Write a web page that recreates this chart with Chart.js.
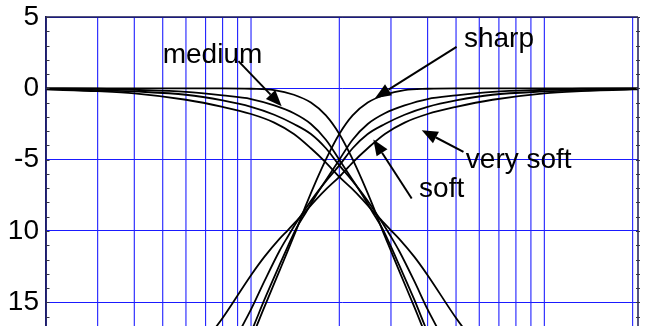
<!DOCTYPE html>
<html>
<head>
<meta charset="utf-8">
<script src="https://cdn.jsdelivr.net/npm/chart.js@4"></script>
<style>
  html, body { margin: 0; padding: 0; background: #ffffff; }
  #c { display: block; }
</style>
</head>
<body>
<canvas id="c" width="645" height="326"></canvas>
<script>
// ---------- data ----------
const LP_FREQ = [1, 1.5, 2, 3, 4, 5, 6, 7, 8, 9, 10, 11, 12, 13, 14, 15, 16, 18, 20, 25, 30, 40, 50, 70, 105];
const SHARP_LP = [0, 0, 0, 0, 0, -0.03, -0.12, -0.45, -1.0, -1.9, -3.2, -4.8, -6.5, -8.2, -9.9, -11.4, -12.8, -15.3, -17.6, -22, -26.5, -33, -38, -46, -55];
const MEDIUM_LP = [0, -0.03, -0.1, -0.25, -0.5, -0.75, -1.2, -1.75, -2.5, -3.6, -5.0, -6.3, -7.5, -8.7, -9.8, -11.1, -12.4, -14.8, -17.1, -21.5, -25.5, -31, -35.5, -42, -50];
const SOFT_LP = [-0.05, -0.12, -0.22, -0.45, -0.85, -1.3, -1.85, -2.5, -3.2, -4.2, -5.4, -6.4, -7.4, -8.4, -9.4, -10.4, -11.4, -13.5, -15.5, -19.2, -22.3, -27.3, -31.3, -37, -43];
const VSOFT_LP = [-0.08, -0.2, -0.35, -0.8, -1.3, -1.8, -2.4, -3.2, -4.2, -5.2, -6.2, -7.0, -7.8, -8.6, -9.3, -9.95, -10.55, -11.8, -13.1, -16.1, -18.3, -22.3, -25.4, -30, -35];

const HP_FREQ = [0.95, 1.43, 2, 2.5, 3.33, 4, 5, 5.56, 6.25, 6.67, 7.14, 7.69, 8.33, 9.09, 10, 11.1, 12.5, 14.3, 16.7, 20, 25, 33.3, 50, 66.7, 100, 105];
const SHARP_HP = [-55, -46, -38, -33, -26.5, -22, -17.6, -15.3, -12.8, -11.4, -9.9, -8.2, -6.5, -4.8, -3.2, -1.9, -1.0, -0.45, -0.12, -0.03, 0, 0, 0, 0, 0, 0];
const MEDIUM_HP = [-50, -42, -35.5, -31, -25.5, -21.5, -17.1, -14.8, -12.4, -11.1, -9.8, -8.7, -7.5, -6.3, -5.0, -3.6, -2.5, -1.75, -1.2, -0.75, -0.5, -0.25, -0.1, -0.03, 0, 0];
const SOFT_HP = [-43, -37, -31.3, -27.3, -22.3, -19.2, -15.5, -13.5, -11.4, -10.4, -9.4, -8.4, -7.4, -6.4, -5.4, -4.2, -3.2, -2.5, -1.85, -1.3, -0.85, -0.45, -0.22, -0.12, -0.05, -0.04];
const VSOFT_HP = [-35, -30, -25.4, -22.3, -18.3, -16.1, -13.1, -11.8, -10.55, -9.95, -9.3, -8.6, -7.8, -7.0, -6.2, -5.2, -4.2, -3.2, -2.4, -1.8, -1.3, -0.8, -0.35, -0.2, -0.08, -0.07];

const X_GRID = [1, 1.5, 2, 2.5, 3, 3.5, 4, 4.5, 5, 10, 15, 20, 25, 30, 35, 40, 45, 50, 100];
const X_MIN = 1, X_MAX = 104.3;
const Y_TICKS = [5, 0, -5, -10, -15];
const Y_LABELS = ['5', '0', '-5', '10', '15'];
const Y_MIN = -16.66, Y_MAX = 5;
const Y_MINOR = [5,4,3,2,1,0,-1,-2,-3,-4,-5,-6,-7,-8,-9,-10,-11,-12,-13,-14,-15,-16];

// annotations: text position (f, dB) baseline-left, arrow tail and tip (f, dB)
const NOTES = [
  { text: 'medium',    tx: 2.5,  ty: 1.77,  ax: 4.53, ay: 1.91,  bx: 6.36,  by: -1.25 },
  { text: 'sharp',     tx: 26.6, ty: 2.92,  ax: 25.1, ay: 2.91,  bx: 13.23, by: -0.69 },
  { text: 'very soft', tx: 27.0, ty: -5.59, ax: 26.5, ay: -4.45, bx: 19.1,  by: -2.93 },
  { text: 'soft',      tx: 18.7, ty: -7.62, ax: 17.65, ay: -7.72, bx: 13.06, by: -3.58 }
];

// ---------- chart ----------
function pts(xs, ys) { return xs.map((x, i) => ({ x: x, y: ys[i] })); }
function ds(xs, ys) {
  return { data: pts(xs, ys), borderColor: '#000000', borderWidth: 1.8, pointRadius: 0,
           fill: false, cubicInterpolationMode: 'monotone' };
}

const FONT = 'Liberation Sans, Arial, sans-serif';
const AXIS_COLOR = '#1c1c55';
const GRID_COLOR = '#1a1aff';

const vgrid = {
  id: 'vgrid',
  beforeDatasetsDraw(chart) {
    const ctx = chart.ctx, a = chart.chartArea, xs = chart.scales.x;
    ctx.save();
    ctx.strokeStyle = '#2020ff';
    ctx.lineWidth = 1.1;
    ctx.beginPath();
    X_GRID.forEach(v => {
      const x = xs.getPixelForValue(v);
      ctx.moveTo(x, a.top); ctx.lineTo(x, a.bottom);
    });
    ctx.stroke();
    ctx.restore();
  }
};

const decor = {
  id: 'decor',
  afterDraw(chart) {
    const ctx = chart.ctx, a = chart.chartArea;
    const xs = chart.scales.x, ys = chart.scales.y;
    ctx.save();
    ctx.strokeStyle = AXIS_COLOR;
    ctx.lineWidth = 1.5;
    ctx.beginPath();
    ctx.moveTo(a.left, a.top); ctx.lineTo(a.right, a.top);
    ctx.moveTo(a.right, a.top); ctx.lineTo(a.right, a.bottom);
    ctx.moveTo(a.left, a.top); ctx.lineTo(a.left, a.bottom);
    ctx.stroke();
    ctx.lineWidth = 1;
    ctx.strokeStyle = '#333344';
    ctx.beginPath();
    Y_MINOR.forEach(v => {
      const y = Math.round(ys.getPixelForValue(v)) + 0.5;
      ctx.moveTo(a.left, y); ctx.lineTo(a.left + 3.5, y);
      ctx.moveTo(a.right - 2, y); ctx.lineTo(a.right + 2, y);
    });
    ctx.stroke();
    ctx.fillStyle = '#000';
    ctx.strokeStyle = '#000';
    ctx.font = '28px ' + FONT;
    ctx.textBaseline = 'alphabetic';
    ctx.textAlign = 'left';
    NOTES.forEach(n => {
      ctx.fillText(n.text, xs.getPixelForValue(n.tx), ys.getPixelForValue(n.ty));
      const x0 = xs.getPixelForValue(n.ax), y0 = ys.getPixelForValue(n.ay);
      const x1 = xs.getPixelForValue(n.bx), y1 = ys.getPixelForValue(n.by);
      const ang = Math.atan2(y1 - y0, x1 - x0);
      const L = 16, W = 6.5;
      const bxp = x1 - L * Math.cos(ang), byp = y1 - L * Math.sin(ang);
      ctx.lineWidth = 2;
      ctx.beginPath();
      ctx.moveTo(x0, y0); ctx.lineTo(bxp, byp);
      ctx.stroke();
      ctx.beginPath();
      ctx.moveTo(x1, y1);
      ctx.lineTo(bxp + W * Math.sin(ang), byp - W * Math.cos(ang));
      ctx.lineTo(bxp - W * Math.sin(ang), byp + W * Math.cos(ang));
      ctx.closePath();
      ctx.fill();
    });
    ctx.restore();
  }
};

new Chart(document.getElementById('c'), {
  type: 'line',
  data: {
    datasets: [
      ds(LP_FREQ, SHARP_LP), ds(LP_FREQ, MEDIUM_LP), ds(LP_FREQ, SOFT_LP), ds(LP_FREQ, VSOFT_LP),
      ds(HP_FREQ, SHARP_HP), ds(HP_FREQ, MEDIUM_HP), ds(HP_FREQ, SOFT_HP), ds(HP_FREQ, VSOFT_HP)
    ]
  },
  options: {
    responsive: false,
    animation: false,
    devicePixelRatio: 1,
    layout: { padding: { top: 17, right: 7, left: 0, bottom: 0 } },
    plugins: { legend: { display: false }, tooltip: { enabled: false } },
    scales: {
      x: {
        type: 'logarithmic', min: X_MIN, max: X_MAX,
        afterBuildTicks: s => { s.ticks = X_GRID.map(v => ({ value: v })); },
        afterFit: s => { s.height = 0; s.paddingLeft = 0; s.paddingRight = 0; s.paddingTop = 0; s.paddingBottom = 0; },
        ticks: { display: false },
        grid: { display: false },
        border: { display: false }
      },
      y: {
        type: 'linear', min: Y_MIN, max: Y_MAX,
        afterBuildTicks: s => { s.ticks = Y_TICKS.map(v => ({ value: v })); },
        afterFit: s => { s.width = 46; s.paddingTop = 0; s.paddingBottom = 0; s.paddingLeft = 0; s.paddingRight = 0; },
        ticks: {
          padding: 7, color: '#000',
          font: { family: FONT, size: 28 },
          callback: (v) => { const i = Y_TICKS.indexOf(v); return i >= 0 ? Y_LABELS[i] : ''; }
        },
        grid: { color: GRID_COLOR, lineWidth: 1, drawTicks: false },
        border: { display: true, color: AXIS_COLOR, width: 1.5 }
      }
    }
  },
  plugins: [vgrid, decor]
});
</script>
</body>
</html>
